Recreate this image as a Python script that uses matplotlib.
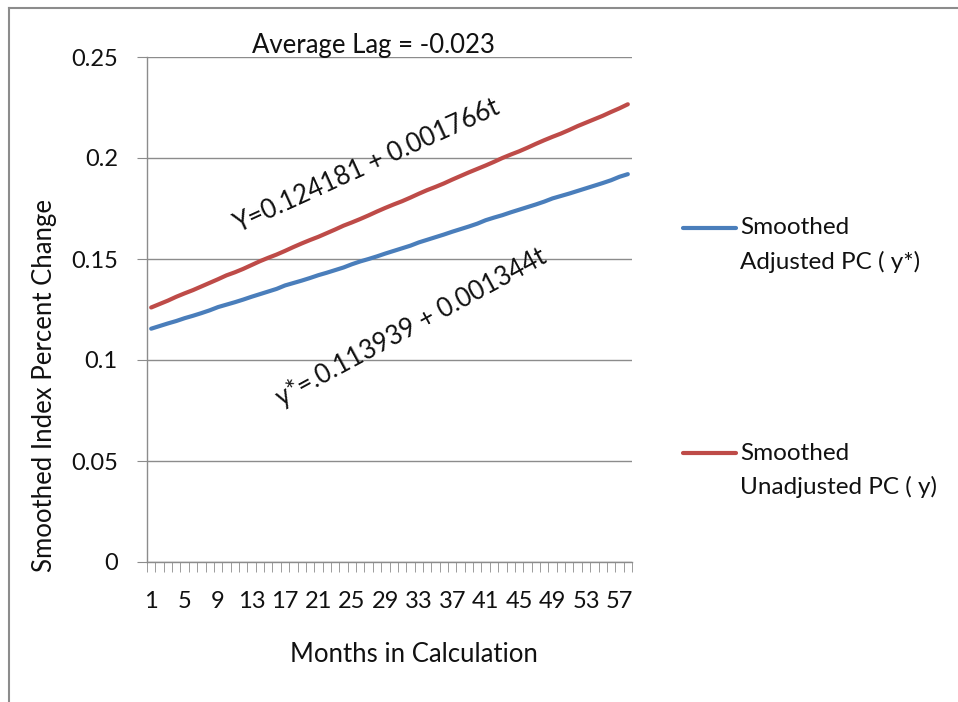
import matplotlib
matplotlib.use("Agg")
import matplotlib.pyplot as plt
from matplotlib.lines import Line2D
import numpy as np

months = list(range(1, 59))
adjusted = [
    0.1155, 0.1168, 0.1181, 0.1193, 0.1207, 0.1219, 0.1232, 0.1246, 0.1262, 0.1274,
    0.1286, 0.1299, 0.1313, 0.1326, 0.1339, 0.1352, 0.1369, 0.1381, 0.1393, 0.1406,
    0.1420, 0.1432, 0.1445, 0.1458, 0.1474, 0.1488, 0.1500, 0.1513, 0.1527, 0.1540,
    0.1553, 0.1566, 0.1582, 0.1595, 0.1608, 0.1621, 0.1635, 0.1648, 0.1661, 0.1675,
    0.1692, 0.1705, 0.1717, 0.1731, 0.1744, 0.1757, 0.1770, 0.1784, 0.1800, 0.1812,
    0.1824, 0.1837, 0.1850, 0.1863, 0.1876, 0.1890, 0.1907, 0.1920,
]
unadjusted = [
    0.1260, 0.1277, 0.1294, 0.1313, 0.1330, 0.1346, 0.1364, 0.1382, 0.1400, 0.1419,
    0.1434, 0.1451, 0.1470, 0.1489, 0.1506, 0.1522, 0.1540, 0.1559, 0.1577, 0.1594,
    0.1610, 0.1628, 0.1646, 0.1665, 0.1681, 0.1698, 0.1716, 0.1735, 0.1753, 0.1770,
    0.1786, 0.1804, 0.1823, 0.1841, 0.1857, 0.1874, 0.1893, 0.1911, 0.1929, 0.1946,
    0.1963, 0.1981, 0.2000, 0.2017, 0.2033, 0.2051, 0.2070, 0.2088, 0.2105, 0.2121,
    0.2139, 0.2158, 0.2175, 0.2192, 0.2209, 0.2228, 0.2246, 0.2266,
]
series_names = ["Smoothed\nAdjusted PC ( y*)", "Smoothed\nUnadjusted PC ( y)"]
x_tick_labels = [str(m) for m in range(1, 58, 4)]
y_ticks = [0, 0.05, 0.1, 0.15, 0.2, 0.25]
y_tick_labels = ["0", "0.05", "0.1", "0.15", "0.2", "0.25"]

plt.rcParams['font.family'] = ['Lato', 'DejaVu Sans']
FS_TICK = 17
FS_LABEL = 18.5
FS_TITLE = 18.5
FS_LEG = 17.5
FS_ANN = 18.5
BLUE = "#4A7EBB"
RED = "#BE4B48"
GRID = "#8c8c8c"
TXT = "#111111"

fig = plt.figure(figsize=(9.58, 7.02), dpi=100)
ax = fig.add_axes([147/958, 1 - 562/702, (632-147)/958, (562-57)/702])

ax.plot(months, adjusted, color=BLUE, lw=3.0, solid_capstyle='round')
ax.plot(months, unadjusted, color=RED, lw=3.0, solid_capstyle='round')

ax.set_xlim(0.5, 58.5)
ax.set_ylim(0, 0.25)
ax.set_yticks(y_ticks)
ax.set_yticklabels(y_tick_labels)
ax.yaxis.grid(True, color=GRID, lw=1.0)
ax.set_axisbelow(True)

ax.set_xticks(list(range(1, 58, 4)))
ax.set_xticklabels(x_tick_labels)
ax.set_xticks(np.arange(0.5, 59.0, 1.0), minor=True)
ax.tick_params(axis='x', which='major', length=0, pad=21, labelsize=FS_TICK, labelcolor=TXT)
ax.tick_params(axis='x', which='minor', length=7, color=GRID, direction='out')
ax.tick_params(axis='y', which='major', length=7, color=GRID, pad=14, labelsize=FS_TICK, labelcolor=TXT)

for s in ['top', 'right']:
    ax.spines[s].set_visible(False)
for s in ['left', 'bottom']:
    ax.spines[s].set_color(GRID)
    ax.spines[s].set_linewidth(1.0)

ax.set_xlabel("Months in Calculation", fontsize=FS_LABEL, color=TXT)
ax.xaxis.set_label_coords((414-147)/485, (562-655)/505)
ax.xaxis.label.set_va('center')
ax.set_ylabel("Smoothed Index Percent Change", fontsize=FS_LABEL, color=TXT)
ax.yaxis.set_label_coords((45-147)/485, (562-386)/505)
ax.yaxis.label.set_va('center')

fig.text(373/958, 1 - 45/702, "Average Lag = -0.023", fontsize=FS_TITLE, ha='center',
         va='center', color=TXT)

fig.text(367/958, 1 - 166/702, "Y=0.124181 + 0.001766t", fontsize=FS_ANN, color=TXT,
         rotation=24.5, rotation_mode='anchor', ha='center', va='center')
fig.text(411/958, 1 - 327/702, "y*=.0.113939 + 0.001344t", fontsize=FS_ANN, color=TXT,
         rotation=28.5, rotation_mode='anchor', ha='center', va='center')

# legend (manual, Excel style)
for yy, col, name in [(228, BLUE, series_names[0]), (453, RED, series_names[1])]:
    fig.add_artist(Line2D([683/958, 736/958], [1 - yy/702, 1 - yy/702], color=col,
                          lw=3.0, solid_capstyle='round'))
    for k, part in enumerate(name.split("\n")):
        fig.text(740/958, 1 - (yy + 34*k)/702, part, fontsize=FS_LEG, ha='left',
                 va='center', color=TXT)

# outer chart border (partially visible)
fig.add_artist(Line2D([9/958, 9/958], [0, 1 - 8/702], color="#8c8c8c", lw=1.5))
fig.add_artist(Line2D([9/958, 1], [1 - 8/702, 1 - 8/702], color="#8c8c8c", lw=1.5))

fig.savefig("out.png", dpi=100)
